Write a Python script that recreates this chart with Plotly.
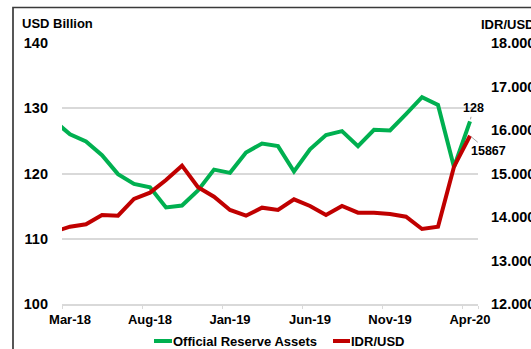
import plotly.graph_objects as go

# ---- data ----
months = ["Feb-18", "Mar-18", "Apr-18", "May-18", "Jun-18", "Jul-18", "Aug-18", "Sep-18",
          "Oct-18", "Nov-18", "Dec-18", "Jan-19", "Feb-19", "Mar-19", "Apr-19", "May-19",
          "Jun-19", "Jul-19", "Aug-19", "Sep-19", "Oct-19", "Nov-19", "Dec-19", "Jan-20",
          "Feb-20", "Mar-20", "Apr-20"]
reserves = [128.1, 126.0, 124.9, 122.8, 119.9, 118.4, 117.9, 114.8, 115.1, 117.4, 120.6,
            120.1, 123.2, 124.6, 124.2, 120.3, 123.7, 125.9, 126.5, 124.2, 126.7, 126.6, 129.1,
            131.7, 130.5, 121.0, 128.0]
idr = [13660, 13777, 13832, 14046, 14030, 14414, 14559, 14851, 15180, 14683, 14467,
       14161, 14030, 14214, 14161, 14407, 14253, 14046, 14253, 14099, 14099, 14069, 14007,
       13724, 13777, 15157, 15867]
tick_labels = ["Mar-18", "Aug-18", "Jan-19", "Jun-19", "Nov-19", "Apr-20"]
series_names = ["Official Reserve Assets", "IDR/USD"]

GREEN = "#00B050"
RED = "#C00000"
FONT = "Liberation Sans, Arial, sans-serif"

W, H = 531, 349
L, R, T, B = 62, 478, 43, 304  # plot area in px


def xp(px):
    return (px - L) / (R - L)


def yp(py):
    return (B - py) / (B - T)


fig = go.Figure()
fig.add_trace(go.Scatter(x=months, y=reserves, mode="lines", name=series_names[0],
                         line=dict(color=GREEN, width=4), showlegend=False))
fig.add_trace(go.Scatter(x=months, y=idr, mode="lines", name=series_names[1], yaxis="y2",
                         line=dict(color=RED, width=4), showlegend=False))

fig.update_layout(
    width=W, height=H,
    margin=dict(l=L, r=W - R, t=T, b=H - B, pad=0, autoexpand=False),
    paper_bgcolor="white", plot_bgcolor="white",
    separators=",.",
    font=dict(family=FONT, size=13, color="black"),
    xaxis=dict(type="category", range=[0.5, len(months) - 0.5],
               tickmode="array", tickvals=tick_labels, ticktext=tick_labels,
               tickson="boundaries", ticks="outside", ticklen=3, tickcolor="#d9d9d9",
               tickangle=0, automargin=False, ticklabelstandoff=3,
               showline=True, linecolor="#d9d9d9", linewidth=1.5, showgrid=False,
               tickfont=dict(family=FONT, size=13, weight="bold"), zeroline=False),
    yaxis=dict(range=[100, 140], dtick=10, showgrid=True, gridcolor="#d9d9d9", gridwidth=1.5,
               zeroline=False, showline=False, ticks="", automargin=False,
               ticklabelstandoff=13,
               tickfont=dict(family=FONT, size=14.5, weight="bold")),
    yaxis2=dict(range=[12000, 18000], dtick=1000, overlaying="y", side="right",
                showgrid=False, zeroline=False, showline=False, ticks="", automargin=False,
                tickformat=",d", ticklabelstandoff=12,
                tickfont=dict(family=FONT, size=14.5, weight="bold")),
)

# axis titles
fig.add_annotation(text="USD Billion", xref="paper", yref="paper", x=xp(20), y=yp(23),
                   xanchor="left", yanchor="middle", showarrow=False,
                   font=dict(family=FONT, size=13, weight="bold"))
fig.add_annotation(text="IDR/USD", xref="paper", yref="paper", x=xp(479), y=yp(24),
                   xanchor="left", yanchor="middle", showarrow=False,
                   font=dict(family=FONT, size=13, weight="bold"))

# data labels for last points
fig.add_annotation(x=months[-1], y=reserves[-1], xref="x", yref="y",
                   text=f"{round(reserves[-1])}", showarrow=True, arrowhead=0,
                   arrowwidth=1, arrowcolor="#a6a6a6", ax=3, ay=-13, standoff=2,
                   font=dict(family=FONT, size=12.5, weight="bold"))
fig.add_annotation(x=months[-1], y=idr[-1], xref="x", yref="y2",
                   text=f"{idr[-1]}", showarrow=True, arrowhead=0,
                   arrowwidth=1, arrowcolor="#a6a6a6", ax=18, ay=15, standoff=1,
                   font=dict(family=FONT, size=12.5, weight="bold"))

# manual legend
legend_y = 341
for (x0, x1, tx, col, name) in [(154, 172, 172, GREEN, series_names[0]),
                                 (333, 350, 350, RED, series_names[1])]:
    fig.add_shape(type="line", xref="paper", yref="paper", x0=xp(x0), x1=xp(x1),
                  y0=yp(legend_y), y1=yp(legend_y), line=dict(color=col, width=4))
    fig.add_annotation(text=name, xref="paper", yref="paper", x=xp(tx - 1), y=yp(legend_y),
                       xanchor="left", yanchor="middle", showarrow=False,
                       font=dict(family=FONT, size=13, weight="bold"))

# chart border (cropped at right and bottom)
fig.add_shape(type="rect", xref="paper", yref="paper", x0=xp(13), x1=xp(560),
              y0=yp(7.5), y1=yp(380), line=dict(color="#3a3a3a", width=1.7), layer="below")

fig.write_html("out.html")
